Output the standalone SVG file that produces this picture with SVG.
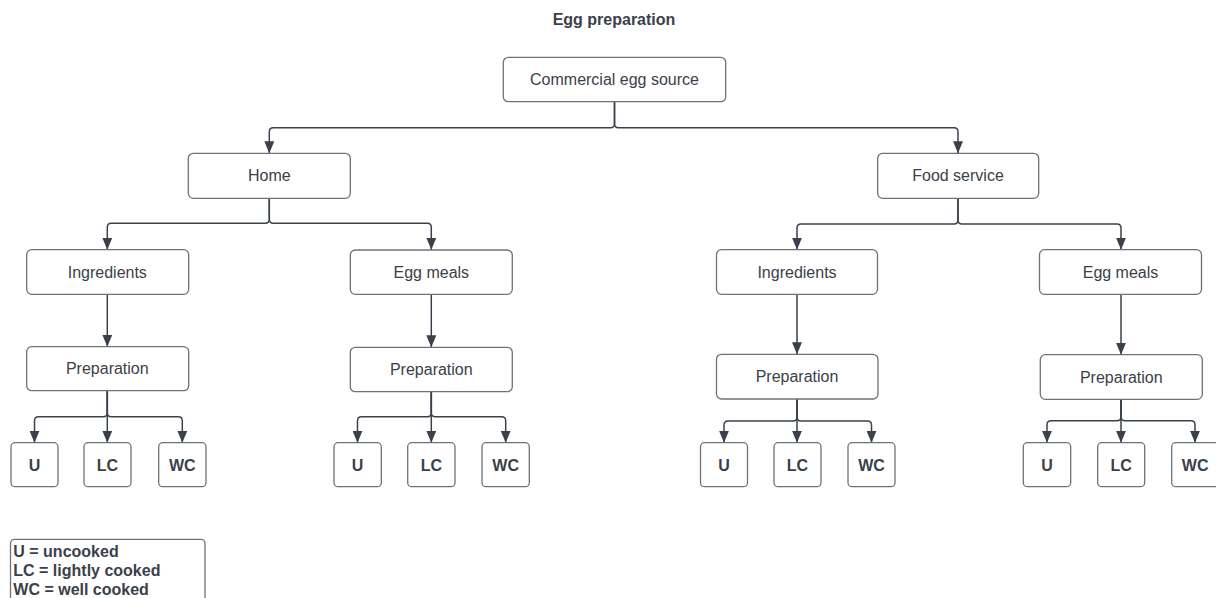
<svg xmlns="http://www.w3.org/2000/svg" width="1216" height="598" viewBox="0 0 1216 598">
<style>
.box{fill:#ffffff;stroke:#6f7276;stroke-width:1.3}
.lbl{font-family:"Liberation Sans",Arial,sans-serif;font-size:16px;fill:#3a414a;text-anchor:middle}
.leaf{font-family:"Liberation Sans",Arial,sans-serif;font-size:16px;font-weight:bold;fill:#3a414a;text-anchor:middle}
.title{font-family:"Liberation Sans",Arial,sans-serif;font-size:16px;font-weight:bold;fill:#3a414a;text-anchor:middle}
.leg{font-family:"Liberation Sans",Arial,sans-serif;font-size:16px;font-weight:bold;fill:#3a414a}
.con{fill:none;stroke:#3a414a;stroke-width:1.5;marker-end:url(#arr)}
</style>
<defs>
<marker id="arr" markerUnits="userSpaceOnUse" markerWidth="10" markerHeight="12" viewBox="0 0 10 12" refX="5" refY="12" orient="0">
<path d="M0,0 L10,0 L5,12 Z" fill="#3a414a"/>
</marker>
</defs>
<rect width="1216" height="598" fill="#ffffff"/>
<text class="title" x="614" y="25">Egg preparation</text>

<g id="connectors">
<path class="con" d="M614.5,101.7 V123.7 Q614.5,127.7 610.5,127.7 H273.3 Q269.3,127.7 269.3,131.7 V153.3"/>
<path class="con" d="M614.5,101.7 V123.7 Q614.5,127.7 618.5,127.7 H954 Q958,127.7 958,131.7 V153.3"/>
<path class="con" d="M269.3,198.3 V219.3 Q269.3,223.3 265.3,223.3 H111.3 Q107.3,223.3 107.3,227.3 V249.7"/>
<path class="con" d="M269.3,198.3 V219.3 Q269.3,223.3 273.3,223.3 H427.3 Q431.3,223.3 431.3,227.3 V249.7"/>
<path class="con" d="M958,198.3 V220 Q958,224 954,224 H801 Q797,224 797,228 V249.7"/>
<path class="con" d="M958,198.3 V220 Q958,224 962,224 H1117 Q1121,224 1121,228 V249.7"/>
<path class="con" d="M107.3,294.3 V346.7"/>
<path class="con" d="M431.3,294.3 V347.3"/>
<path class="con" d="M797,294.3 V354.3"/>
<path class="con" d="M1121,294.3 V354.7"/>
<path class="con" d="M107.3,390.7 V412.7 Q107.3,416.7 103.3,416.7 H38.5 Q34.5,416.7 34.5,420.7 V442.7"/>
<path class="con" d="M107.3,390.7 V442.7"/>
<path class="con" d="M107.3,390.7 V412.7 Q107.3,416.7 111.3,416.7 H178.3 Q182.3,416.7 182.3,420.7 V442.7"/>
<path class="con" d="M431.3,391.7 V412.7 Q431.3,416.7 427.3,416.7 H361.5 Q357.5,416.7 357.5,420.7 V442.7"/>
<path class="con" d="M431.3,391.7 V442.7"/>
<path class="con" d="M431.3,391.7 V412.7 Q431.3,416.7 435.3,416.7 H501.7 Q505.7,416.7 505.7,420.7 V442.7"/>
<path class="con" d="M797,399 V417 Q797,421 793,421 H728 Q724,421 724,425 V442.7"/>
<path class="con" d="M797,399 V442.7"/>
<path class="con" d="M797,399 V417 Q797,421 801,421 H867.5 Q871.5,421 871.5,425 V442.7"/>
<path class="con" d="M1121,399.3 V416.7 Q1121,420.7 1117,420.7 H1051 Q1047,420.7 1047,424.7 V442.7"/>
<path class="con" d="M1121,399.3 V442.7"/>
<path class="con" d="M1121,399.3 V416.7 Q1121,420.7 1125,420.7 H1191 Q1195,420.7 1195,424.7 V442.7"/>
</g>

<g id="n-commercial"><rect class="box" x="503.3" y="57.3" width="222.4" height="44.4" rx="5"/><text class="lbl" x="614.5" y="85">Commercial egg source</text></g>
<g id="n-home"><rect class="box" x="188.3" y="153.3" width="162" height="45" rx="5"/><text class="lbl" x="269.3" y="181.3">Home</text></g>
<g id="n-foodservice"><rect class="box" x="877.7" y="153.3" width="161" height="45" rx="5"/><text class="lbl" x="958" y="181.3">Food service</text></g>

<g id="n-home-ingredients"><rect class="box" x="26.7" y="249.7" width="162" height="44.6" rx="5"/><text class="lbl" x="107.3" y="277.5">Ingredients</text></g>
<g id="n-home-eggmeals"><rect class="box" x="350.3" y="250" width="162" height="44.3" rx="5"/><text class="lbl" x="431.3" y="277.7">Egg meals</text></g>
<g id="n-fs-ingredients"><rect class="box" x="716.5" y="249.7" width="161" height="44.6" rx="5"/><text class="lbl" x="797" y="277.5">Ingredients</text></g>
<g id="n-fs-eggmeals"><rect class="box" x="1039.5" y="249.7" width="162" height="44.6" rx="5"/><text class="lbl" x="1120.5" y="277.5">Egg meals</text></g>

<g id="n-home-ing-prep"><rect class="box" x="26.7" y="346.7" width="162" height="44" rx="5"/><text class="lbl" x="107.3" y="374.2">Preparation</text></g>
<g id="n-home-egg-prep"><rect class="box" x="350.3" y="347.3" width="162" height="44.4" rx="5"/><text class="lbl" x="431.3" y="375">Preparation</text></g>
<g id="n-fs-ing-prep"><rect class="box" x="716.5" y="354.3" width="161.5" height="44.7" rx="5"/><text class="lbl" x="797" y="382.2">Preparation</text></g>
<g id="n-fs-egg-prep"><rect class="box" x="1040.3" y="354.7" width="162" height="44.6" rx="5"/><text class="lbl" x="1121.3" y="382.5">Preparation</text></g>

<g id="n-h1-u"><rect class="box" x="11" y="442.7" width="47" height="44" rx="4"/><text class="leaf" x="34.5" y="470.5">U</text></g>
<g id="n-h1-lc"><rect class="box" x="84" y="442.7" width="47" height="44" rx="4"/><text class="leaf" x="107.5" y="470.5">LC</text></g>
<g id="n-h1-wc"><rect class="box" x="158.7" y="442.7" width="47.3" height="44" rx="4"/><text class="leaf" x="182.3" y="470.5">WC</text></g>

<g id="n-h2-u"><rect class="box" x="334" y="442.7" width="47.3" height="44" rx="4"/><text class="leaf" x="357.6" y="470.5">U</text></g>
<g id="n-h2-lc"><rect class="box" x="407.7" y="442.7" width="47.3" height="44" rx="4"/><text class="leaf" x="431.3" y="470.5">LC</text></g>
<g id="n-h2-wc"><rect class="box" x="482" y="442.7" width="47.3" height="44" rx="4"/><text class="leaf" x="505.7" y="470.5">WC</text></g>

<g id="n-f1-u"><rect class="box" x="700.5" y="442.7" width="47" height="44" rx="4"/><text class="leaf" x="724" y="470.5">U</text></g>
<g id="n-f1-lc"><rect class="box" x="774" y="442.7" width="47" height="44" rx="4"/><text class="leaf" x="797.5" y="470.5">LC</text></g>
<g id="n-f1-wc"><rect class="box" x="848" y="442.7" width="47" height="44" rx="4"/><text class="leaf" x="871.5" y="470.5">WC</text></g>

<g id="n-f2-u"><rect class="box" x="1023.3" y="442.7" width="47.4" height="44" rx="4"/><text class="leaf" x="1047" y="470.5">U</text></g>
<g id="n-f2-lc"><rect class="box" x="1097.7" y="442.7" width="47" height="44" rx="4"/><text class="leaf" x="1121.2" y="470.5">LC</text></g>
<g id="n-f2-wc"><rect class="box" x="1171.7" y="442.7" width="47" height="44" rx="4"/><text class="leaf" x="1195.2" y="470.5">WC</text></g>

<g id="legend">
<rect class="box" x="10.5" y="539.3" width="194.5" height="70" rx="4"/>
<text class="leg" x="13.3" y="556.5">U = uncooked</text>
<text class="leg" x="13.3" y="575.8">LC = lightly cooked</text>
<text class="leg" x="13.3" y="595">WC = well cooked</text>
</g>
</svg>
